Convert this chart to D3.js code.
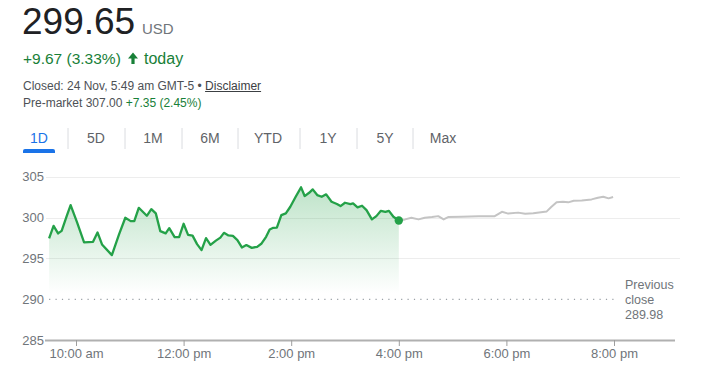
<!DOCTYPE html>
<html>
<head>
<meta charset="utf-8">
<script src="https://cdn.jsdelivr.net/npm/d3@7"></script>
<style>
  html, body { margin: 0; padding: 0; background: #fff; }
  svg { display: block; font-family: "Liberation Sans", Arial, sans-serif; }
</style>
</head>
<body>
<svg id="chart" width="707" height="375"></svg>
<script>
// ---------------- data ----------------
const price = "299.65";
const currency = "USD";
const changeText = "+9.67 (3.33%)";
const closedText = "Closed: 24 Nov, 5:49 am GMT-5 • ";
const disclaimerText = "Disclaimer";
const preMarketLabel = "Pre-market 307.00 ";
const preMarketChange = "+7.35 (2.45%)";
const rangeTabs = ["1D", "5D", "1M", "6M", "YTD", "1Y", "5Y", "Max"];

const sessionTimes = ["9:30","9:35","9:40","9:44","9:50","9:54","10:01","10:09","10:19","10:24","10:29","10:40","10:48","10:55","11:01","11:05","11:10","11:19","11:24","11:29","11:34","11:40","11:44","11:50","11:55","12:00","12:05","12:10","12:15","12:20","12:25","12:30","12:36","12:41","12:45","12:50","12:55","13:00","13:05","13:10","13:16","13:22","13:27","13:32","13:36","13:40","13:44","13:49","13:54","13:59","14:05","14:11","14:15","14:20","14:24","14:29","14:34","14:39","14:45","14:51","14:55","15:00","15:06","15:09","15:14","15:19","15:24","15:30","15:35","15:40","15:45","15:49","15:54","16:00"];
const sessionPrices = [297.45,298.99,298.06,298.38,300.31,301.53,299.48,296.96,297.03,298.18,296.71,295.40,297.94,299.98,299.57,299.57,301.20,300.22,301.04,300.52,298.34,298.06,298.71,297.61,297.61,299.24,297.89,297.79,296.75,296.01,297.48,296.66,297.18,297.55,298.13,297.82,297.75,297.24,296.34,296.63,296.29,296.42,296.83,297.64,298.55,298.75,298.77,300.31,300.52,301.33,302.55,303.71,302.64,303.04,303.46,302.76,302.55,302.85,301.94,301.66,301.41,301.82,301.66,301.74,301.25,301.45,300.92,299.78,300.18,300.83,300.71,300.83,300.10,299.65];

const afterTimes = ["16:00","16:07","16:14","16:22","16:29","16:37","16:44","16:50","16:55","17:10","17:29","17:47","17:55","18:02","18:13","18:21","18:30","18:45","18:50","18:56","19:03","19:09","19:15","19:24","19:35","19:42","19:48","19:54","19:59"];
const afterPrices = [299.65,299.78,299.98,299.78,299.98,300.06,300.18,299.78,300.06,300.10,300.18,300.18,300.71,300.49,300.61,300.47,300.52,300.76,301.29,301.87,301.94,301.87,302.06,302.11,302.23,302.43,302.55,302.36,302.52];

const previousClose = 289.98;
const previousCloseLabel = ["Previous", "close", "289.98"];
const yTickValues = [285, 290, 295, 300, 305];
const gridValues = [295, 300, 305];
const xTickTimes = ["10:00", "12:00", "14:00", "16:00", "18:00", "20:00"];
const xTickLabels = ["10:00 am", "12:00 pm", "2:00 pm", "4:00 pm", "6:00 pm", "8:00 pm"];

// ---------------- helpers ----------------
const parseT = s => { const [h, m] = s.split(":").map(Number); return new Date(2023, 10, 22, h, m); };
const session = sessionTimes.map((t, i) => ({ t: parseT(t), v: sessionPrices[i] }));
const after = afterTimes.map((t, i) => ({ t: parseT(t), v: afterPrices[i] }));

const GREEN = "#24a148";
const GREEN_TEXT = "#188038";
const GREY = "#70757a";

const svg = d3.select("#chart");

// ---------------- header ----------------
svg.append("text").attr("x", 22).attr("y", 34).attr("font-size", 37).attr("fill", "#202124").text(price);
svg.append("text").attr("x", 142).attr("y", 34).attr("font-size", 15).attr("fill", GREY).text(currency);

svg.append("text").attr("x", 23).attr("y", 64).attr("font-size", 15.5).attr("fill", GREEN_TEXT).text(changeText);
// up arrow
svg.append("path")
  .attr("d", "M128,58.5 L133,52.5 L138,58.5 L134.6,58.5 L134.6,64 L131.4,64 L131.4,58.5 Z")
  .attr("fill", GREEN_TEXT);
svg.append("text").attr("x", 144).attr("y", 64).attr("font-size", 16).attr("fill", GREEN_TEXT).text("today");

const closed = svg.append("text").attr("x", 23).attr("y", 90).attr("font-size", 12).attr("fill", "#4d5156");
closed.append("tspan").text(closedText);
const discl = closed.append("tspan").attr("fill", "#3c4043").text(disclaimerText);
{
  const full = closed.node().getComputedTextLength();
  const dw = discl.node().getComputedTextLength();
  svg.append("line").attr("x1", 23 + full - dw).attr("x2", 23 + full)
    .attr("y1", 91.5).attr("y2", 91.5).attr("stroke", "#3c4043").attr("stroke-width", 1);
}
const pre = svg.append("text").attr("x", 23).attr("y", 107).attr("font-size", 12).attr("fill", "#4d5156");
pre.append("tspan").text(preMarketLabel);
pre.append("tspan").attr("fill", GREEN_TEXT).text(preMarketChange);

// ---------------- tabs ----------------
const tabCenters = [39, 96, 153, 210, 268, 328, 385, 443];
const tabSeps = [68, 125, 182, 238, 300, 357, 413];
svg.selectAll("text.tab").data(rangeTabs).join("text")
  .attr("class", "tab")
  .attr("x", (d, i) => tabCenters[i]).attr("y", 143)
  .attr("text-anchor", "middle").attr("font-size", 14)
  .attr("fill", (d, i) => i === 0 ? "#1a73e8" : "#5f6368")
  .text(d => d);
svg.selectAll("line.sep").data(tabSeps).join("line")
  .attr("class", "sep")
  .attr("x1", d => d).attr("x2", d => d).attr("y1", 128).attr("y2", 149)
  .attr("stroke", "#dadce0").attr("stroke-width", 1);
svg.append("rect").attr("x", 23).attr("y", 149).attr("width", 32).attr("height", 4)
  .attr("rx", 2).attr("fill", "#1a73e8");
svg.append("rect").attr("x", 23).attr("y", 151).attr("width", 32).attr("height", 2).attr("fill", "#1a73e8");

// ---------------- scales ----------------
const x = d3.scaleTime().domain([parseT("10:00"), parseT("20:00")]).range([76, 614]);
const y = d3.scaleLinear().domain([285, 305]).range([340, 176.8]);

// grid lines
svg.selectAll("line.grid").data(gridValues).join("line")
  .attr("class", "grid")
  .attr("x1", 46).attr("x2", 680)
  .attr("y1", d => Math.round(y(d)) + 0.5).attr("y2", d => Math.round(y(d)) + 0.5)
  .attr("stroke", "#ededed").attr("stroke-width", 1);

// y axis labels
const yAxis = d3.axisLeft(y).tickValues(yTickValues).tickSize(0).tickPadding(0).tickFormat(d3.format("d"));
const yg = svg.append("g").attr("transform", "translate(44,0)").call(yAxis);
yg.select(".domain").remove();
yg.selectAll("text").attr("font-size", 13).attr("fill", GREY)
  .attr("font-family", "'Liberation Sans', Arial, sans-serif");

// previous close dotted line
svg.append("line")
  .attr("x1", x(parseT("9:30"))).attr("x2", 618)
  .attr("y1", y(previousClose)).attr("y2", y(previousClose))
  .attr("stroke", "#9aa0a6").attr("stroke-width", 1.2)
  .attr("stroke-dasharray", "1.2,5.2");

svg.selectAll("text.pc").data(previousCloseLabel).join("text")
  .attr("class", "pc")
  .attr("x", 625).attr("y", (d, i) => 289 + i * 15)
  .attr("font-size", 12.5).attr("fill", GREY).text(d => d);

// area gradient
const defs = svg.append("defs");
const grad = defs.append("linearGradient").attr("id", "fillGrad")
  .attr("gradientUnits", "userSpaceOnUse")
  .attr("x1", 0).attr("x2", 0).attr("y1", y(304)).attr("y2", y(290.7));
grad.append("stop").attr("offset", 0).attr("stop-color", GREEN).attr("stop-opacity", 0.3);
grad.append("stop").attr("offset", 1).attr("stop-color", GREEN).attr("stop-opacity", 0.0);

const area = d3.area().x(d => x(d.t)).y0(y(290.7)).y1(d => y(d.v));
svg.append("path").datum(session).attr("d", area).attr("fill", "url(#fillGrad)");

const line = d3.line().x(d => x(d.t)).y(d => y(d.v));
svg.append("path").datum(after).attr("d", line)
  .attr("fill", "none").attr("stroke", "#c4c4c4").attr("stroke-width", 2)
  .attr("stroke-linejoin", "round");
svg.append("path").datum(session).attr("d", line)
  .attr("fill", "none").attr("stroke", GREEN).attr("stroke-width", 2.3)
  .attr("stroke-linejoin", "round");

const last = session[session.length - 1];
svg.append("circle").attr("cx", x(last.t)).attr("cy", y(last.v)).attr("r", 4.2).attr("fill", GREEN);

// x axis
svg.append("line").attr("x1", 45).attr("x2", 675).attr("y1", 340.5).attr("y2", 340.5)
  .attr("stroke", "#b0b0b0").attr("stroke-width", 2);
const xAxis = d3.axisBottom(x).tickValues(xTickTimes.map(parseT)).tickSize(6).tickPadding(3)
  .tickFormat((d, i) => xTickLabels[i]);
const xg = svg.append("g").attr("transform", "translate(0,340)").call(xAxis);
xg.select(".domain").remove();
xg.selectAll(".tick line").attr("stroke", "#9e9e9e");
xg.selectAll("text").attr("font-size", 13).attr("fill", GREY)
  .attr("font-family", "'Liberation Sans', Arial, sans-serif");
</script>
</body>
</html>
